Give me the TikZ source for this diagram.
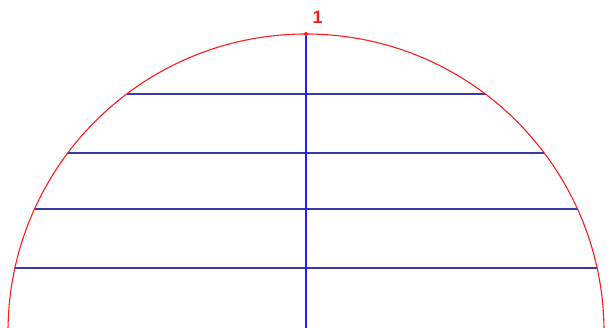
\documentclass[tikz,border=0pt]{standalone}
\usepackage{fontspec}
\setmainfont{Liberation Sans}
\definecolor{ArcRed}{HTML}{ff1a1a}
\definecolor{ChordNavy}{HTML}{3a3aa6}
\definecolor{AxisBlue}{HTML}{1f1fff}
\usepackage{tikz}
\usetikzlibrary{positioning, calc}
\usepackage{xcolor}

\begin{document}
\begin{tikzpicture}[x=1pt, y=1pt,
    chord/.style={ChordNavy, line width=1.8pt},
    axisline/.style={AxisBlue, line width=1.3pt},
    arcline/.style={ArcRed, line width=1.1pt}]
      \useasboundingbox (0,0) rectangle (612,327);
      \clip (0,0) rectangle (612,327);
      \coordinate (O) at (306,-5);
      % semicircle
      \draw[arcline] ($(O)+(0:298)$) arc[start angle=0, end angle=180, radius=298];
      % chords
      \foreach \h in {238,179,123,64} {
        \pgfmathsetmacro{\a}{asin(\h/298)}
        \coordinate (L\h) at ($(O)+(180-\a:298)$);
        \coordinate (R\h) at ($(O)+(\a:298)$);
        \draw[chord] (L\h) -- (R\h);
      }
      \node[circle, fill=ArcRed, inner sep=0pt, minimum size=4pt] (top) at ($(O)+(90:298)$) {};
      \draw[axisline] (top) -- (O);
      \node[ArcRed, inner sep=0pt, font=\bfseries\fontsize{18}{18}\selectfont,
            above right=8.8pt and 4.8pt of top] (one) {1};
    \end{tikzpicture}
\end{document}
